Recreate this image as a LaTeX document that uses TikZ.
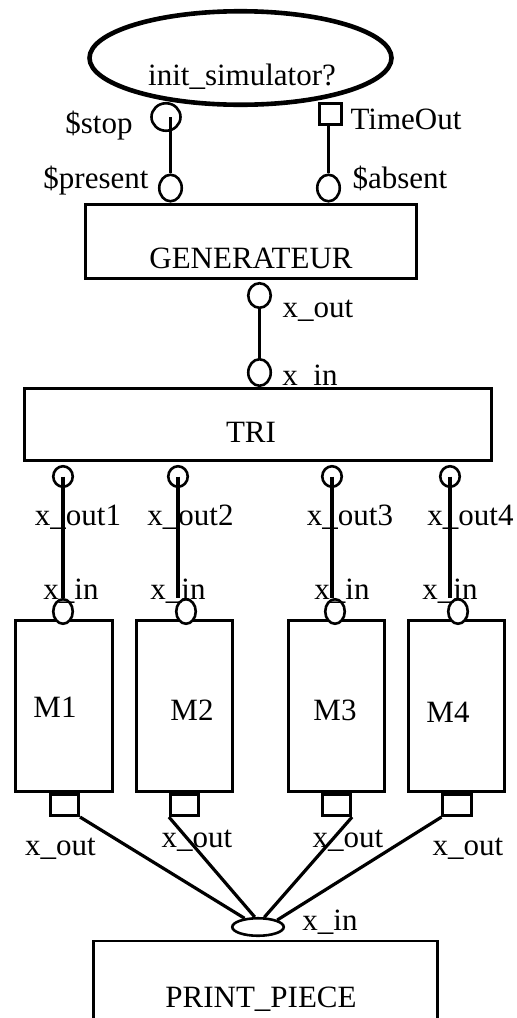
\documentclass[tikz,border=0pt]{standalone}
\usepackage{fontspec}
\setmainfont{Liberation Serif}
\usetikzlibrary{shapes.geometric}

\begin{document}
\begin{tikzpicture}[
  x=1pt, y=-1pt,
  every node/.style={font=\fontsize{31}{36}\selectfont, inner sep=0pt},
  block/.style={rectangle, draw, line width=2.6pt, fill=white},
  port/.style={ellipse, draw, line width=2.6pt, fill=white, minimum width=22.5pt, minimum height=26.5pt},
  sqport/.style={rectangle, draw, line width=2.6pt, fill=white, minimum width=28.5pt, minimum height=21.5pt},
  wire/.style={line width=3.2pt},
  txt/.style={anchor=base},
]
\useasboundingbox (0,0) rectangle (517,1018);
% blocks
\node[ellipse, draw, line width=4.6pt, minimum width=302pt, minimum height=93.5pt] (sim) at (240.5,58) {};
\node[block, minimum width=331.4pt, minimum height=74.4pt] (gen) at (251,241.5) {};
\node[block, minimum width=467.4pt, minimum height=72.4pt] (tri) at (258,424.5) {};
\node[block, minimum width=97.4pt, minimum height=171.4pt] (m1) at (64,706) {};
\node[block, minimum width=96.4pt, minimum height=171.4pt] (m2) at (184.5,706) {};
\node[block, minimum width=96.4pt, minimum height=171.4pt] (m3) at (336.5,706) {};
\node[block, minimum width=96.4pt, minimum height=171.4pt] (m4) at (456.5,706) {};
\node[block, minimum width=344.4pt, minimum height=120pt] (pp) at (265.5,1001) {};
% ports
\node[port, minimum width=29pt, minimum height=27.5pt] (stop) at (166,117) {};
\node[sqport, minimum width=22.5pt] (tout) at (330.5,114) {};
\node[port] (pres) at (170.5,188) {};
\node[port] (abs) at (328.5,188) {};
\node[port, minimum height=24.5pt] (genout) at (259.5,295.5) {};
\node[port] (triin) at (259.5,372.5) {};
\node[port, minimum width=19.5pt, minimum height=20.5pt] (to1) at (63,476.5) {};
\node[port, minimum width=19.5pt, minimum height=20.5pt] (to2) at (178,476.5) {};
\node[port, minimum width=19.5pt, minimum height=20.5pt] (to3) at (332,476.5) {};
\node[port, minimum width=19.5pt, minimum height=20.5pt] (to4) at (450,476.5) {};
\node[port, minimum width=19.5pt, minimum height=24.5pt] (mi1) at (63,611.5) {};
\node[port, minimum width=19.5pt, minimum height=24.5pt] (mi2) at (186,611.5) {};
\node[port, minimum width=19.5pt, minimum height=24.5pt] (mi3) at (335,611.5) {};
\node[port, minimum width=19.5pt, minimum height=24.5pt] (mi4) at (458,611.5) {};
\node[sqport] (mo1) at (64.5,805) {};
\node[sqport] (mo2) at (184.5,805) {};
\node[sqport] (mo3) at (336.5,805) {};
\node[sqport] (mo4) at (457,805) {};
\node[port, minimum width=51.5pt, minimum height=17.5pt] (ppin) at (258,927) {};
% connectors
\draw[wire] (pres.north |- stop.center) -- (pres.north);
\draw[wire] (abs.north |- tout.south) -- (abs.north);
\draw[wire] (genout) -- (triin);
\draw[wire] (to1.center) -- (to1.center |- mi1.north);
\draw[wire] (to2.center) -- (to2.center |- mi2.north);
\draw[wire] (to3.center) -- (to3.center |- mi3.north);
\draw[wire] (to4.center) -- (to4.center |- mi4.north);
\draw[wire] (mo1.south east) -- (ppin.147);
\draw[wire] (mo2.south west) -- (ppin.108);
\draw[wire] (mo3.south east) -- (ppin.57);
\draw[wire] (mo4.south west) -- (ppin.20);
% texts
\node[txt] (simtxt) at (242,85) {init\_simulator?};
\node[txt] (lstop) at (99,133) {\$stop};
\node[txt] (ltout) at (406,129) {TimeOut};
\node[txt] (lpres) at (96,188) {\$present};
\node[txt] (labs) at (400,188) {\$absent};
\node[txt] (gentxt) at (251,268) {GENERATEUR};
\node[txt] (lgenout) at (318,317) {x\_out};
\node[txt] (ltriin) at (310,385) {x\_in};
\node[txt] (tritxt) at (251,442) {TRI};
\node[txt] (lto1) at (78,525) {x\_out1};
\node[txt] (lto2) at (190.5,525) {x\_out2};
\node[txt] (lto3) at (350,525) {x\_out3};
\node[txt] (lto4) at (470.5,525) {x\_out4};
\node[txt] (lmi1) at (71,599) {x\_in};
\node[txt] (lmi2) at (178,599) {x\_in};
\node[txt] (lmi3) at (342,599) {x\_in};
\node[txt] (lmi4) at (450,599) {x\_in};
\node[txt] (m1txt) at (55,717) {M1};
\node[txt] (m2txt) at (192,720) {M2};
\node[txt] (m3txt) at (335,720) {M3};
\node[txt] (m4txt) at (448,722) {M4};
\node[txt] (lmo1) at (60.5,855) {x\_out};
\node[txt] (lmo2) at (197,847) {x\_out};
\node[txt] (lmo3) at (348,847) {x\_out};
\node[txt] (lmo4) at (468,855) {x\_out};
\node[txt] (lppin) at (330,930) {x\_in};
\node[txt] (pptxt) at (261,1007) {PRINT\_PIECE};
\end{tikzpicture}
\end{document}
